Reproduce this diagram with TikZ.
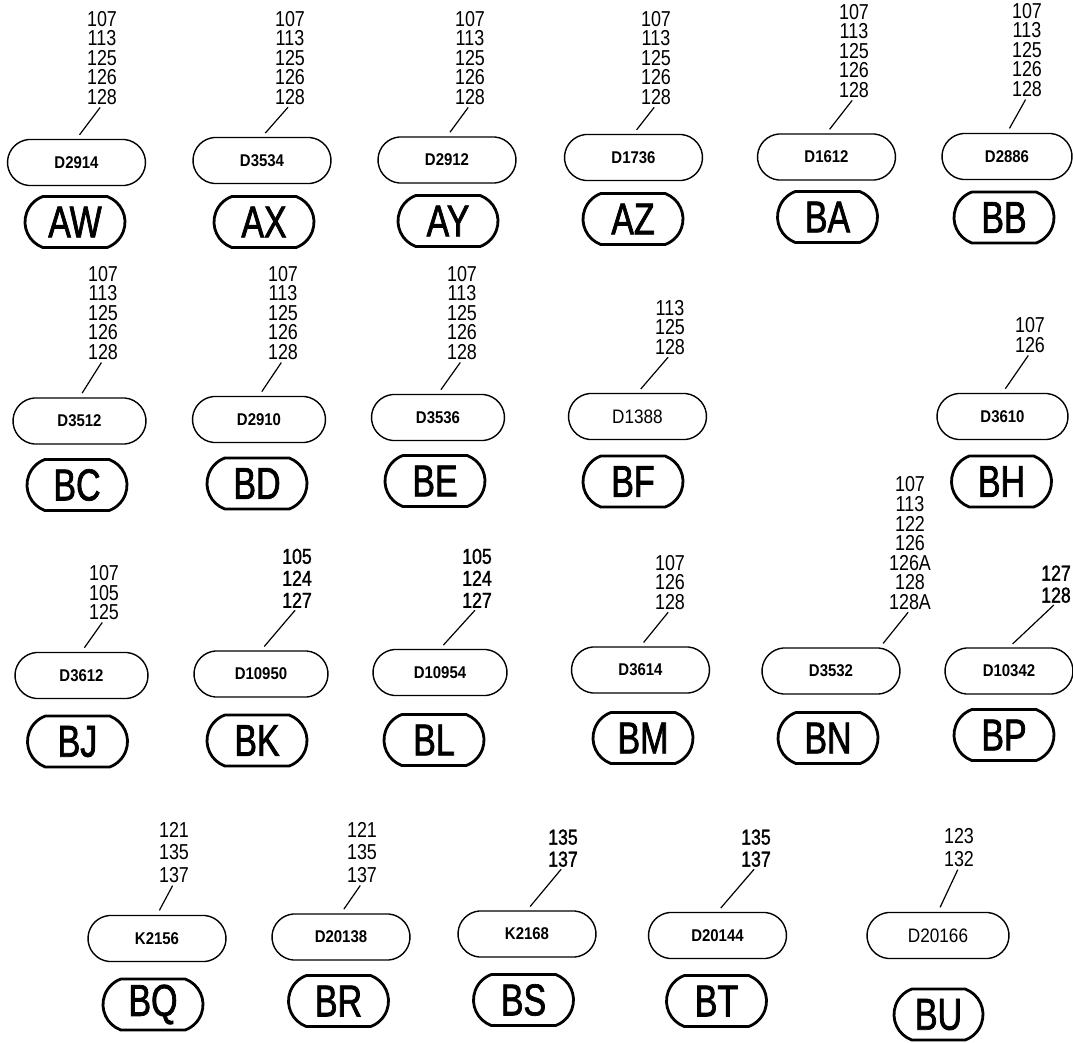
\documentclass[tikz,border=0pt]{standalone}
\usepackage{fontspec}
\usepackage{tikz}
\usetikzlibrary{shapes.misc}
\newfontfamily\refsfont{Liberation Sans}[FakeStretch=0.83]
\newfontfamily\refsboldfont{Liberation Sans}[FakeStretch=0.82,FakeBold=1.4]
\newfontfamily\partfont{Liberation Sans}[FakeStretch=0.88]
\newfontfamily\tagfont{Liberation Sans}[FakeStretch=0.76,FakeBold=1.6]

\tikzset{
  partbox/.style={draw,rounded rectangle,rounded rectangle arc length=170,line width=1.4pt,
    minimum width=138pt,minimum height=46pt,inner sep=0pt,
    font=\partfont\bfseries\fontsize{17pt}{18pt}\selectfont},
  partbox thin/.style={partbox,font=\partfont\fontsize{19.5pt}{21pt}\selectfont},
  tagoval/.style={draw,rounded rectangle,rounded rectangle arc length=140,line width=2.8pt,
    minimum width=100pt,minimum height=51pt,inner sep=0pt,
    font=\tagfont\fontsize{44.7pt}{46pt}\selectfont},
  refnums/.style={anchor=south,align=center,inner sep=0pt,
    font=\refsfont\fontsize{21.6pt}{19.6pt}\selectfont},
  refnums wide/.style={refnums,font=\refsfont\fontsize{21.6pt}{22.7pt}\selectfont},
  refnums bold/.style={refnums,font=\refsboldfont\fontsize{21.6pt}{22pt}\selectfont},
  leader/.style={line width=1.2pt,shorten <=3pt,shorten >=5pt}
}

\begin{document}
\begin{tikzpicture}[x=1pt,y=-1pt]
      \useasboundingbox (0,0) rectangle (1073,1042);
      % first row
      \node[refnums] (nAW) at (102,105) {107\\113\\125\\126\\128};
      \node[partbox] (bAW) at (76.5,162.5) {D2914};
      \node[tagoval] (tAW) at (75,222) {AW};
      \node[refnums] (nAX) at (290,105) {107\\113\\125\\126\\128};
      \node[partbox] (bAX) at (262,160.5) {D3534};
      \node[tagoval] (tAX) at (264,222) {AX};
      \node[refnums] (nAY) at (470,105) {107\\113\\125\\126\\128};
      \node[partbox] (bAY) at (447,160) {D2912};
      \node[tagoval] (tAY) at (448,221) {AY};
      \node[refnums] (nAZ) at (656,105) {107\\113\\125\\126\\128};
      \node[partbox] (bAZ) at (633.5,157.5) {D1736};
      \node[tagoval] (tAZ) at (633,219) {AZ};
      \node[refnums] (nBA) at (854,98) {107\\113\\125\\126\\128};
      \node[partbox] (bBA) at (826.5,157) {D1612};
      \node[tagoval] (tBA) at (827.5,217) {BA};
      \node[refnums] (nBB) at (1027,97) {107\\113\\125\\126\\128};
      \node[partbox,minimum width=130pt] (bBB) at (1007,156.5) {D2886};
      \node[tagoval] (tBB) at (1004,217.5) {BB};
      \draw[leader] (nAW.south) -- (bAW.north);
      \draw[leader] (nAX.south) -- (bAX.north);
      \draw[leader] (nAY.south) -- (bAY.north);
      \draw[leader] (nAZ.south) -- (bAZ.north);
      \draw[leader] (nBA.south) -- (bBA.north);
      \draw[leader] (nBB.south) -- (bBB.north);
      % second row
      \node[refnums] (nBC) at (103,360) {107\\113\\125\\126\\128};
      \node[partbox,minimum width=133pt] (bBC) at (79.5,421) {D3512};
      \node[tagoval] (tBC) at (77,485) {BC};
      \node[refnums] (nBD) at (283,360) {107\\113\\125\\126\\128};
      \node[partbox,minimum width=133pt] (bBD) at (259,419.5) {D2910};
      \node[tagoval] (tBD) at (257,483.5) {BD};
      \node[refnums] (nBE) at (462,360) {107\\113\\125\\126\\128};
      \node[partbox,minimum width=133pt] (bBE) at (438,417.5) {D3536};
      \node[tagoval] (tBE) at (435,481) {BE};
      \node[refnums] (nBF) at (670,355) {113\\125\\128};
      \node[partbox thin] (bBF) at (637.5,416.5) {D1388};
      \node[tagoval] (tBF) at (633,481.5) {BF};
      \node[refnums] (nBH) at (1030,353) {107\\126};
      \node[partbox,minimum width=131pt] (bBH) at (1002.5,416.5) {D3610};
      \node[tagoval] (tBH) at (1001.5,481.5) {BH};
      \draw[leader] (nBC.south) -- (bBC.north);
      \draw[leader] (nBD.south) -- (bBD.north);
      \draw[leader] (nBE.south) -- (bBE.north);
      \draw[leader] (nBF.south) -- (bBF.north);
      \draw[leader] (nBH.south) -- (bBH.north);
      % third row
      \node[refnums] (nBJ) at (104,620) {107\\105\\125};
      \node[partbox,minimum width=133pt] (bBJ) at (81.5,675.5) {D3612};
      \node[tagoval] (tBJ) at (77.5,741.5) {BJ};
      \node[refnums bold] (nBK) at (297,608) {105\\124\\127};
      \node[partbox,minimum width=134pt] (bBK) at (261,674) {D10950};
      \node[tagoval] (tBK) at (257,740.5) {BK};
      \node[refnums bold] (nBL) at (477,608) {105\\124\\127};
      \node[partbox,minimum width=134pt] (bBL) at (440,672.5) {D10954};
      \node[tagoval] (tBL) at (434,740) {BL};
      \node[refnums] (nBM) at (670,610) {107\\126\\128};
      \node[partbox] (bBM) at (640.5,670) {D3614};
      \node[tagoval] (tBM) at (643,738) {BM};
      \node[refnums] (nBN) at (910,610) {107\\113\\122\\126\\126A\\128\\128A};
      \node[partbox] (bBN) at (831,671) {D3532};
      \node[tagoval] (tBN) at (828,738) {BN};
      \node[refnums bold] (nBP) at (1056,603) {127\\128};
      \node[partbox,minimum width=128pt] (bBP) at (1009,671) {D10342};
      \node[tagoval] (tBP) at (1004,735) {BP};
      \draw[leader] (nBJ.south) -- (bBJ.north);
      \draw[leader] (nBK.south) -- (bBK.north);
      \draw[leader] (nBL.south) -- (bBL.north);
      \draw[leader] (nBM.south) -- (bBM.north);
      \draw[leader] (nBN.south) -- ([xshift=49pt]bBN.north);
      \draw[leader] (nBP.south) -- (bBP.north);
      % fourth row
      \node[refnums wide] (nBQ) at (174,883) {121\\135\\137};
      \node[partbox] (bBQ) at (157,938.5) {K2156};
      \node[tagoval] (tBQ) at (153,1004.5) {BQ};
      \node[refnums wide] (nBR) at (362,883) {121\\135\\137};
      \node[partbox] (bBR) at (341,937) {D20138};
      \node[tagoval] (tBR) at (338.5,1001) {BR};
      \node[refnums bold] (nBS) at (563,867) {135\\137};
      \node[partbox] (bBS) at (527,934) {K2168};
      \node[tagoval] (tBS) at (523.5,1000) {BS};
      \node[refnums bold] (nBT) at (756,867) {135\\137};
      \node[partbox] (bBT) at (717.5,935.5) {D20144};
      \node[tagoval] (tBT) at (716.5,1001) {BT};
      \node[refnums wide] (nBU) at (959,867) {123\\132};
      \node[partbox thin,minimum width=142pt] (bBU) at (938,935.5) {D20166};
      \node[tagoval,minimum width=89pt] (tBU) at (938.5,1014.5) {BU};
      \draw[leader] (nBQ.south) -- (bBQ.north);
      \draw[leader] (nBR.south) -- (bBR.north);
      \draw[leader] (nBS.south) -- (bBS.north);
      \draw[leader] (nBT.south) -- (bBT.north);
      \draw[leader] (nBU.south) -- (bBU.north);
    \end{tikzpicture}
\end{document}
